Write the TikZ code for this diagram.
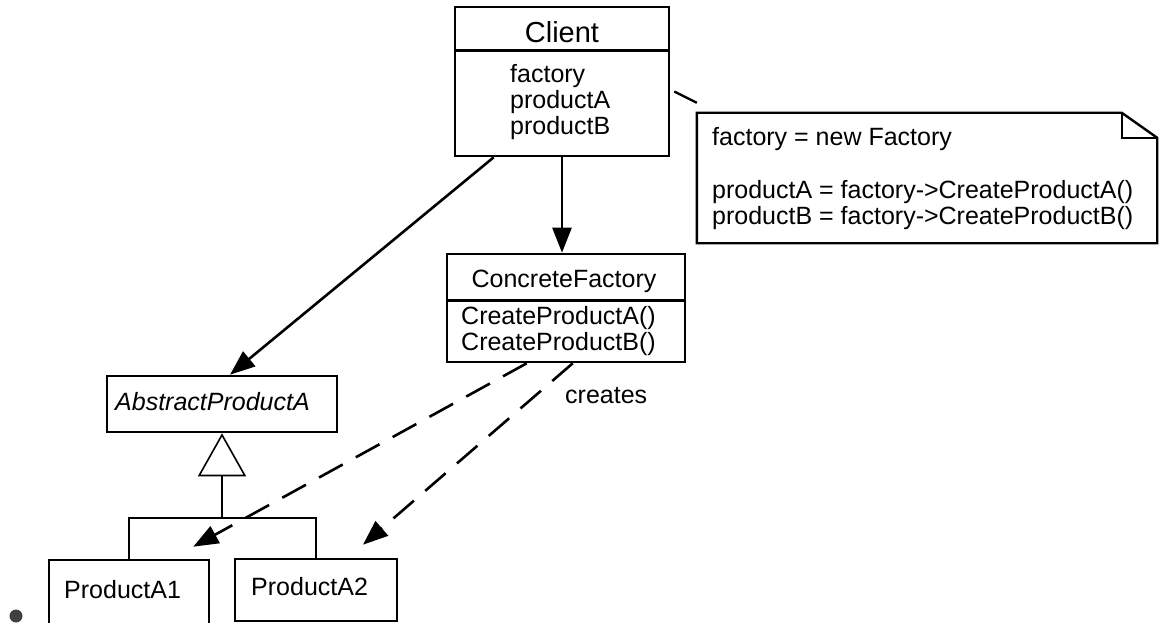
\documentclass[tikz,border=0pt]{standalone}
\usepackage{fontspec}
\setmainfont{Liberation Sans}
\usetikzlibrary{calc}
\usetikzlibrary{arrows.meta}

\tikzset{
  box/.style={draw, line width=2.6pt, inner sep=0pt},
  txt/.style={inner sep=0pt, align=left, font=\fontsize{25}{26}\selectfont},
  assoc/.style={line width=2.6pt, -{Triangle[length=25pt, width=19pt]}},
  creates/.style={line width=2.6pt, dash pattern=on 27pt off 15pt, -{Triangle[length=25pt, width=19pt]}}
}

\begin{document}
\begin{tikzpicture}[x=1pt, y=-1pt]
            \clip (0,0) rectangle (1160,623);

            % Client class
            \node[box, minimum width=214pt, minimum height=149pt] (client) at (562,81.5) {};
            \draw[line width=2.6pt] (client.north west) ++(0,45) -- ++(214,0);
            \node[txt, anchor=base, font=\fontsize{29}{30}\selectfont] (clientname) at (562,43) {Client};
            \node[txt, anchor=base west] (clientattr) at (510,135) {factory\\productA\\productB};

            % Note
            \node[minimum width=460pt, minimum height=130pt, inner sep=0pt] (note) at (927,178) {};
            \draw[line width=2.4pt] (note.north west) -- ++(425,0) -- ($(note.north east)+(0,25)$)
                -- (note.south east) -- (note.south west) -- cycle;
            \draw[line width=2.4pt] ($(note.north east)+(-35,0)$) |- ++(35,25);
            \node[txt, anchor=base west] (notetext) at (712,225)
                {factory = new Factory\\[27pt]productA = factory->CreateProductA()\\productB = factory->CreateProductB()};
            \draw[line width=2.4pt] ($(client.east)+(4,10)$) -- ($(note.north west)+(0,-10)$);

            % ConcreteFactory class
            \node[box, minimum width=238pt, minimum height=108pt] (factory) at (566,308) {};
            \draw[line width=2.6pt] (factory.north west) ++(0,48) -- ++(238,0);
            \node[txt, anchor=base] (factoryname) at (564,287) {ConcreteFactory};
            \node[txt, anchor=base west] (factoryops) at (461,350) {CreateProductA()\\CreateProductB()};

            % Products
            \node[box, minimum width=230pt, minimum height=56pt] (abstract) at (222,404) {};
            \node[txt, anchor=base west, font=\fontsize{25}{26}\selectfont\itshape] at (115,410) {AbstractProductA};
            \node[box, minimum width=160pt, minimum height=70pt] (prodone) at (129,595) {};
            \node[txt, anchor=base west] at (64,598) {ProductA1};
            \node[box, minimum width=162pt, minimum height=62pt] (prodtwo) at (316,590) {};
            \node[txt, anchor=base west] at (251,595) {ProductA2};

            % Associations
            \draw[assoc] ($(client.south west)+(40,0)$) -- ($(abstract.north)+(8,0)$);
            \draw[assoc] (client.south) -- (client.south |- factory.north);

            % Inheritance
            \coordinate (fork) at (222,518);
            \draw[line width=2.6pt] (prodone.north) |- (prodtwo.north |- fork) -- (prodtwo.north);
            \draw[line width=2.6pt, -{Triangle[open, length=43pt, width=48pt, line width=1.6pt]}] (fork) -- (abstract.south);

            % Creates dependencies
            \draw[creates] ($(factory.south west)+(81,0)$) -- ($(prodone.north east)+(-17,-12)$);
            \draw[creates] ($(factory.south west)+(127,0)$) -- ($(prodtwo.north)+(47,-13)$);
            \node[txt, anchor=base west] (createslabel) at (565,403) {creates};

            % Bullet
            \fill[black!75] (16,616) circle (6.5pt);
\end{tikzpicture}
\end{document}
